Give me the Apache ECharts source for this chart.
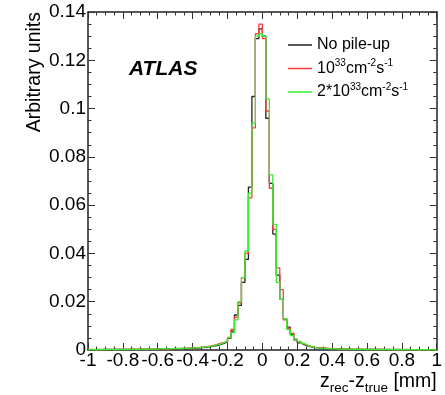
<!DOCTYPE html>
<html>
<head>
<meta charset="utf-8">
<script src="https://cdn.jsdelivr.net/npm/echarts@6/dist/echarts.min.js"></script>
<style>
  html, body { margin: 0; padding: 0; background: #fff; }
  #chart { width: 445px; height: 395px; }
</style>
</head>
<body>
<div id="chart"></div>
<script>
// Vertex resolution z_rec - z_true, 100 bins of 0.02 mm from -1 to 1 mm
const binStart = -1;
const binWidth = 0.02;
const binCount = 100;

const seriesNames = ['No pile-up', '10^33 cm^-2 s^-1', '2*10^33 cm^-2 s^-1'];

const noPileUp = [
  0.0001, 0.0001, 0.0002, 0.0001, 0.0002, 0.0002, 0.0001, 0.0002, 0.0003, 0.0002,
  0.0002, 0.0003, 0.0002, 0.0003, 0.0003, 0.0004, 0.0003, 0.0004, 0.0004, 0.0005,
  0.0004, 0.0005, 0.0005, 0.0006, 0.0005, 0.0006, 0.0007, 0.0006, 0.0007, 0.0008,
  0.0008, 0.0009, 0.0010, 0.0012, 0.0013, 0.0016, 0.0018, 0.0022, 0.0027, 0.0034,
  0.0048, 0.0078, 0.0145, 0.0185, 0.0280, 0.0375, 0.0675, 0.1050, 0.1290, 0.1330,
  0.1300, 0.0960, 0.0690, 0.0480, 0.0310, 0.0210, 0.0130, 0.0095, 0.0065, 0.0042,
  0.0030, 0.0022, 0.0017, 0.0013, 0.0010, 0.0009, 0.0008, 0.0007, 0.0006, 0.0006,
  0.0005, 0.0005, 0.0004, 0.0004, 0.0004, 0.0003, 0.0003, 0.0003, 0.0002, 0.0003,
  0.0002, 0.0002, 0.0002, 0.0002, 0.0001, 0.0002, 0.0001, 0.0001, 0.0002, 0.0001,
  0.0001, 0.0001, 0.0001, 0.0001, 0.0001, 0.0000, 0.0001, 0.0001, 0.0000, 0.0001
];

const lumi1e33 = [
  0.0002, 0.0001, 0.0001, 0.0002, 0.0002, 0.0001, 0.0003, 0.0002, 0.0002, 0.0003,
  0.0003, 0.0002, 0.0004, 0.0003, 0.0004, 0.0003, 0.0005, 0.0004, 0.0005, 0.0004,
  0.0006, 0.0005, 0.0006, 0.0005, 0.0007, 0.0006, 0.0006, 0.0008, 0.0007, 0.0009,
  0.0010, 0.0010, 0.0013, 0.0014, 0.0016, 0.0019, 0.0023, 0.0028, 0.0031, 0.0036,
  0.0052, 0.0085, 0.0135, 0.0195, 0.0300, 0.0400, 0.0630, 0.0920, 0.1310, 0.1350,
  0.1290, 0.0990, 0.0670, 0.0500, 0.0340, 0.0250, 0.0125, 0.0090, 0.0070, 0.0045,
  0.0033, 0.0025, 0.0019, 0.0015, 0.0012, 0.0010, 0.0008, 0.0008, 0.0007, 0.0006,
  0.0006, 0.0005, 0.0005, 0.0004, 0.0005, 0.0004, 0.0003, 0.0004, 0.0003, 0.0002,
  0.0003, 0.0002, 0.0003, 0.0002, 0.0002, 0.0001, 0.0002, 0.0002, 0.0001, 0.0002,
  0.0001, 0.0002, 0.0001, 0.0001, 0.0001, 0.0001, 0.0000, 0.0001, 0.0001, 0.0001
];

const lumi2e33 = [
  0.0001, 0.0002, 0.0001, 0.0001, 0.0002, 0.0002, 0.0002, 0.0001, 0.0002, 0.0003,
  0.0002, 0.0003, 0.0003, 0.0002, 0.0004, 0.0004, 0.0003, 0.0005, 0.0004, 0.0004,
  0.0005, 0.0006, 0.0005, 0.0006, 0.0006, 0.0007, 0.0006, 0.0007, 0.0008, 0.0008,
  0.0009, 0.0011, 0.0011, 0.0013, 0.0015, 0.0017, 0.0021, 0.0024, 0.0030, 0.0038,
  0.0050, 0.0072, 0.0125, 0.0200, 0.0300, 0.0410, 0.0650, 0.0940, 0.1300, 0.1310,
  0.1300, 0.1040, 0.0725, 0.0520, 0.0280, 0.0210, 0.0130, 0.0085, 0.0060, 0.0045,
  0.0036, 0.0027, 0.0020, 0.0014, 0.0011, 0.0009, 0.0008, 0.0007, 0.0006, 0.0005,
  0.0005, 0.0004, 0.0004, 0.0005, 0.0003, 0.0004, 0.0003, 0.0003, 0.0003, 0.0002,
  0.0002, 0.0003, 0.0002, 0.0001, 0.0002, 0.0002, 0.0001, 0.0002, 0.0001, 0.0001,
  0.0002, 0.0001, 0.0001, 0.0001, 0.0000, 0.0001, 0.0001, 0.0001, 0.0001, 0.0000
];

const xTickLabels = ['-1', '-0.8', '-0.6', '-0.4', '-0.2', '0', '0.2', '0.4', '0.6', '0.8', '1'];
const yTickLabels = ['0', '0.02', '0.04', '0.06', '0.08', '0.1', '0.12', '0.14'];

const colors = ['#222222', '#ff3b3b', '#33f033'];
const FONT = '"Liberation Sans", Arial, Helvetica, sans-serif';

// Turn bin contents into step-line points: left edge of each bin, plus the right edge of the last bin
function histPoints(values) {
  const pts = values.map((v, i) => [+(binStart + i * binWidth).toFixed(4), v]);
  pts.push([+(binStart + binCount * binWidth).toFixed(4), values[values.length - 1]]);
  return pts;
}

const legendRich = {
  t: { fontSize: 16, lineHeight: 20, fontFamily: FONT, color: '#000' },
  sup: { fontSize: 10, lineHeight: 10, verticalAlign: 'top', fontFamily: FONT, color: '#000' }
};
const legendText = {
  'No pile-up': '{t|No pile-up}',
  '10^33 cm^-2 s^-1': '{t|10}{sup|33}{t|cm}{sup|-2}{t|s}{sup|-1}',
  '2*10^33 cm^-2 s^-1': '{t|2*10}{sup|33}{t|cm}{sup|-2}{t|s}{sup|-1}'
};

function findLabel(list, v) {
  const s = String(+v.toFixed(4));
  return list.indexOf(s) >= 0 ? s : '';
}

const frameLine = { show: true, onZero: false, lineStyle: { color: '#222', width: 1.5 } };
const tickStyle = { show: true, inside: true, length: 7, lineStyle: { color: '#333', width: 1 } };
const minorStyle = { show: true, splitNumber: 4, length: 3.5, lineStyle: { color: '#333', width: 1 } };

const chart = echarts.init(document.getElementById('chart'), null, { renderer: 'canvas' });

chart.setOption({
  animation: false,
  backgroundColor: '#fff',
  title: {
    text: 'ATLAS',
    left: 124,
    top: 54,
    textStyle: { fontFamily: FONT, fontSize: 21, fontWeight: 'bold', fontStyle: 'italic', color: '#000' }
  },
  legend: {
    orient: 'vertical',
    left: 288,
    top: 37,
    padding: 0,
    itemWidth: 24,
    itemHeight: 1.5,
    itemGap: 5.5,
    icon: 'rect',
    data: seriesNames,
    formatter: name => legendText[name],
    textStyle: { rich: legendRich }
  },
  graphic: [{
    type: 'text',
    x: 35,
    y: 12,
    rotation: Math.PI / 2,
    style: {
      text: 'Arbitrary units',
      font: '19.5px ' + FONT,
      textAlign: 'right',
      textVerticalAlign: 'middle',
      fill: '#000'
    }
  }],
  grid: { left: 88, right: 7, top: 12, bottom: 45, containLabel: false },
  xAxis: [{
    type: 'value',
    min: -1, max: 1, interval: 0.2,
    position: 'bottom',
    axisLine: frameLine,
    axisTick: tickStyle,
    minorTick: minorStyle,
    splitLine: { show: false },
    axisLabel: {
      fontFamily: FONT, fontSize: 19, color: '#000', margin: 1,
      formatter: v => findLabel(xTickLabels, v)
    },
    name: '{m|z}{s|rec}{m|-z}{s|true}{m| [mm]}',
    nameLocation: 'end',
    nameGap: 0,
    nameTextStyle: {
      align: 'right',
      verticalAlign: 'top',
      padding: [19, 0, 0, 0],
      rich: {
        m: { fontFamily: FONT, fontSize: 19.5, lineHeight: 26, color: '#000' },
        s: { fontFamily: FONT, fontSize: 13.5, lineHeight: 11, verticalAlign: 'bottom', color: '#000' }
      }
    }
  }, {
    type: 'value',
    min: -1, max: 1, interval: 0.2,
    position: 'top',
    axisLine: frameLine,
    axisTick: tickStyle,
    minorTick: minorStyle,
    splitLine: { show: false },
    axisLabel: { show: false }
  }],
  yAxis: [{
    type: 'value',
    min: 0, max: 0.14, interval: 0.02,
    position: 'left',
    axisLine: frameLine,
    axisTick: tickStyle,
    minorTick: minorStyle,
    splitLine: { show: false },
    axisLabel: {
      fontFamily: FONT, fontSize: 19, color: '#000', margin: 2,
      formatter: v => findLabel(yTickLabels, v)
    }
  }, {
    type: 'value',
    min: 0, max: 0.14, interval: 0.02,
    position: 'right',
    axisLine: frameLine,
    axisTick: tickStyle,
    minorTick: minorStyle,
    splitLine: { show: false },
    axisLabel: { show: false }
  }],
  series: [noPileUp, lumi1e33, lumi2e33].map((vals, i) => ({
    name: seriesNames[i],
    type: 'line',
    step: 'end',
    xAxisIndex: 0,
    yAxisIndex: 0,
    symbol: 'none',
    color: colors[i],
    lineStyle: { color: colors[i], width: 1.3 },
    data: histPoints(vals),
    z: 2 + i
  }))
});
</script>
</body>
</html>
